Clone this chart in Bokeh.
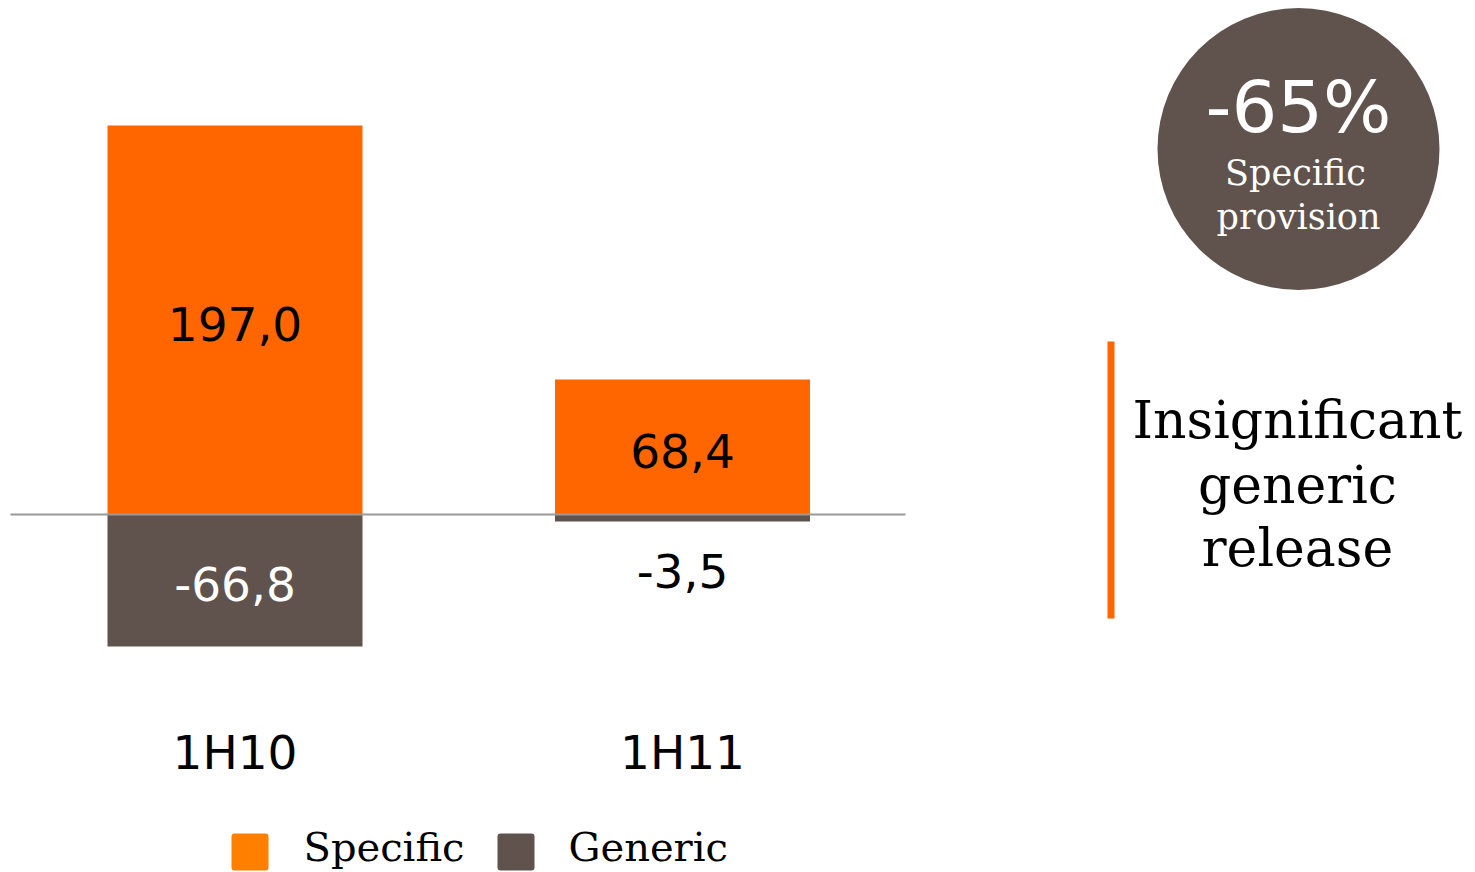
from bokeh.plotting import figure
from bokeh.models import Range1d
from bokeh.core.properties import value
from bokeh.embed import file_html
from bokeh.resources import INLINE

# ---- data ----
periods = ["1H10", "1H11"]
specific = [197.0, 68.4]
generic = [-66.8, -3.5]
specific_labels = ["197,0", "68,4"]
generic_labels = ["-66,8", "-3,5"]
badge_value = "-65%"
badge_lines = ["Specific", "provision"]
note_lines = ["Insignificant", "generic", "release"]
legend_names = ["Specific", "Generic"]

ORANGE = "#FF6600"
ORANGE_LEG = "#FF8000"
BROWN = "#60534D"

W, H = 1475, 872
X0, XS = 234.5, 447.5      # pixel of category 0, pixels per category
Y0, YS = 514.0, 1.975      # pixel of zero, pixels per unit

def dx(px):
    return (px - X0) / XS

def dy(py):
    return (Y0 - py) / YS

p = figure(width=W, height=H, output_backend="svg", toolbar_location=None,
           x_range=Range1d(dx(0), dx(W)), y_range=Range1d(dy(H), dy(0)),
           min_border=0)
p.axis.visible = False
p.grid.visible = False
p.outline_line_color = None
p.background_fill_color = "white"
p.border_fill_color = "white"

xs = list(range(len(periods)))
bw = 255 / XS

p.vbar(x=xs, bottom=0, top=specific, width=bw, fill_color=ORANGE, line_color=None)
p.vbar(x=xs, bottom=generic, top=0, width=bw, fill_color=BROWN, line_color=None)

# zero line
p.line(x=[dx(10), dx(905)], y=[0, 0], line_color="#999999", line_width=2)

num_font = value("DejaVu Sans")
word_font = value("DejaVu Serif")

# value labels
p.text(x=xs, y=[v / 2 for v in specific], text=specific_labels, text_font=num_font,
       text_font_size="47px", text_align="center", text_baseline="middle",
       text_color="black", y_offset=4)
gy = [v / 2 if abs(v) > 10 else v - 23 for v in generic]
gc = ["white" if abs(v) > 10 else "black" for v in generic]
p.text(x=xs, y=gy, text=generic_labels, text_font=num_font, text_font_size="47px",
       text_align="center", text_baseline="middle", text_color=gc, y_offset=4)

# category labels
p.text(x=xs, y=[dy(752)] * len(xs), text=periods, text_font=num_font,
       text_font_size="47px", text_align="center", text_baseline="middle",
       text_color="black")

# badge circle
p.circle(x=[dx(1298)], y=[dy(148.5)], radius=141, radius_units="screen",
         fill_color=BROWN, line_color=None)
p.text(x=[dx(1298)], y=[dy(106)], text=[badge_value], text_font=num_font,
       text_font_size="72px", text_align="center", text_baseline="middle",
       text_color="white")
p.text(x=[dx(1295), dx(1298)], y=[dy(172), dy(216)], text=badge_lines,
       text_font=word_font, text_font_size="35px", text_align="center",
       text_baseline="middle", text_color="white")

# note with orange bar
p.line(x=[dx(1110.5), dx(1110.5)], y=[dy(341), dy(618)], line_color=ORANGE, line_width=7)
p.text(x=[dx(1297)] * 3, y=[dy(419), dy(484), dy(547)], text=note_lines,
       text_font=word_font, text_font_size="52px", text_align="center",
       text_baseline="middle", text_color="black")

# legend
p.rect(x=[dx(249.5), dx(515.5)], y=[dy(851.5)] * 2, width=31, height=31,
       width_units="screen", height_units="screen",
       fill_color=[ORANGE_LEG, BROWN], line_color=[ORANGE_LEG, BROWN],
       line_width=6, line_join="round")
p.text(x=[dx(303), dx(568)], y=[dy(846)] * 2, text=legend_names, text_font=word_font,
       text_font_size="40px", text_align="left", text_baseline="middle",
       text_color="black")

open("out.html", "w").write(file_html(p, INLINE))
